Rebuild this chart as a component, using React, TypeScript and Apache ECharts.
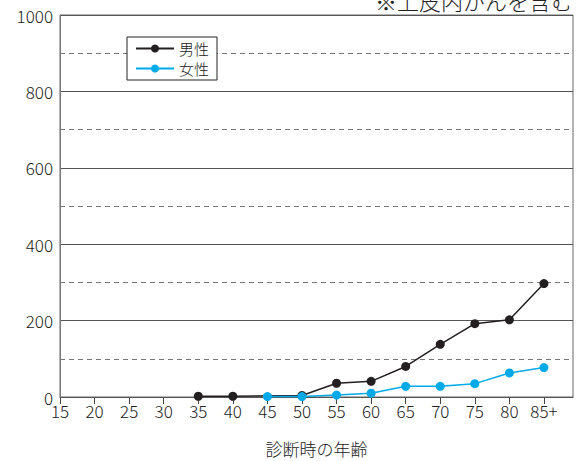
import React, { useEffect, useRef } from "react";
import * as echarts from "echarts";

const ageLabels = ["15", "20", "25", "30", "35", "40", "45", "50", "55", "60", "65", "70", "75", "80", "85+"];
const ageValues = [15, 20, 25, 30, 35, 40, 45, 50, 55, 60, 65, 70, 75, 80, 85];
const maleValues: (number | null)[] = [null, null, null, null, 2, 2, null, 4, 36, 41, 80, 138, 192, 202, 297];
const femaleValues: (number | null)[] = [null, null, null, null, null, null, 1, 1, 5, 10, 28, 28, 35, 63, 77];
const yTicks = [0, 200, 400, 600, 800, 1000];

const FONT = "'Noto Sans CJK JP', 'Noto Sans', sans-serif";
const W = 300;

export default function App() {
  const ref = useRef<HTMLDivElement>(null);
  useEffect(() => {
    if (!ref.current) return;
    const chart = echarts.init(ref.current, undefined, { renderer: "svg" });
    const toPairs = (vals: (number | null)[]) =>
      ageValues.map((a, i) => [a, vals[i]]).filter((p) => p[1] !== null);
    chart.setOption({
      animation: false,
      textStyle: { fontFamily: FONT, fontWeight: W },
      grid: {
        left: 60,
        right: 5,
        top: 15,
        bottom: 64,
        show: true,
        borderColor: "#666",
        borderWidth: 1,
        outerBoundsMode: "none",
        containLabel: false,
      },
      graphic: [
        {
          type: "text",
          right: 5,
          top: -11,
          style: { text: "※上皮内がんを含む", fontSize: 22, fill: "#222", fontFamily: FONT, fontWeight: W },
        },
      ],
      legend: {
        left: 127,
        top: 37,
        orient: "vertical",
        backgroundColor: "#fff",
        borderColor: "#222",
        borderWidth: 1,
        borderRadius: 0,
        padding: [4, 8, 4, 8],
        itemWidth: 38,
        itemHeight: 10,
        itemGap: 5,
        textStyle: { fontSize: 15, color: "#222", fontFamily: FONT, fontWeight: W },
        data: ["男性", "女性"],
      },
      xAxis: {
        type: "value",
        min: 15,
        max: 89.2,
        interval: 5,
        name: "診断時の年齢",
        nameLocation: "middle",
        nameGap: 43,
        nameTextStyle: { fontSize: 17, color: "#222", fontFamily: FONT, fontWeight: W },
        axisLine: { lineStyle: { color: "#444" } },
        axisTick: { show: true, length: 7, lineStyle: { color: "#444" } },
        axisLabel: {
          fontSize: 17,
          color: "#222",
          margin: 5,
          fontFamily: FONT,
          fontWeight: W,
          showMaxLabel: false,
          formatter: (v: number) => {
            const i = ageValues.indexOf(v);
            return i >= 0 ? ageLabels[i] : "";
          },
        },
        splitLine: { show: false },
      },
      yAxis: [
        {
          type: "value",
          min: 0,
          max: 1000,
          interval: 200,
          axisLine: { show: true, lineStyle: { color: "#777" } },
          axisTick: { show: false },
          axisLabel: {
            fontSize: 17,
            color: "#222",
            margin: 7,
            fontFamily: FONT,
            fontWeight: W,
            formatter: (v: number) => (yTicks.includes(v) ? String(v) : ""),
          },
          splitLine: { show: true, lineStyle: { color: "#555", width: 1, type: "solid" } },
          z: 3,
        },
        {
          type: "value",
          min: 0,
          max: 1000,
          interval: 100,
          position: "left",
          axisLine: { show: false },
          axisTick: { show: false },
          axisLabel: { show: false },
          splitLine: { show: true, lineStyle: { color: "#777", width: 1, type: [5, 4] } },
        },
      ],
      series: [
        {
          name: "男性",
          type: "line",
          yAxisIndex: 0,
          data: toPairs(maleValues),
          symbol: "circle",
          symbolSize: 9,
          itemStyle: { color: "#231f20" },
          lineStyle: { color: "#231f20", width: 1.5 },
          z: 5,
        },
        {
          name: "女性",
          type: "line",
          yAxisIndex: 0,
          data: toPairs(femaleValues),
          symbol: "circle",
          symbolSize: 9,
          itemStyle: { color: "#00a9e8" },
          lineStyle: { color: "#00a9e8", width: 1.5 },
          z: 6,
        },
      ],
    });
    return () => chart.dispose();
  }, []);
  return (
    <div
      ref={ref}
      style={{ position: "fixed", left: 0, top: 0, width: 578, height: 461, background: "#fff" }}
    />
  );
}
